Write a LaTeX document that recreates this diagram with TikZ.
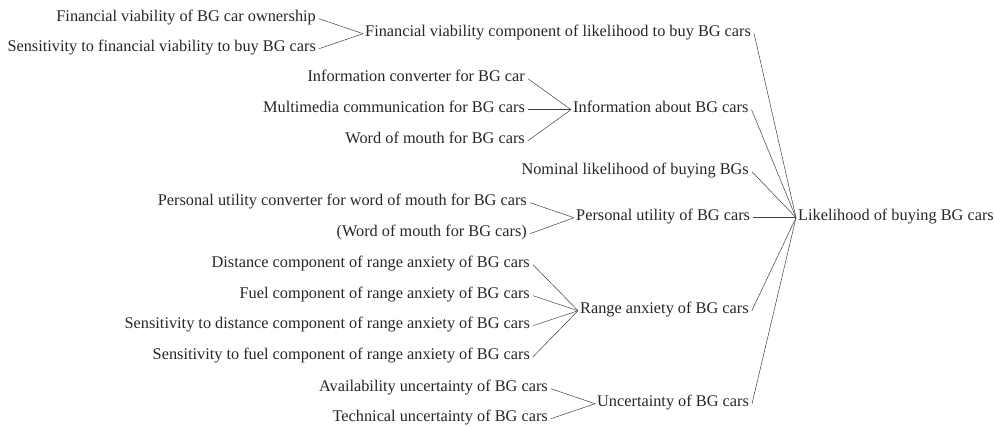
\documentclass[tikz,border=0pt]{standalone}
\usepackage{fontspec}
\setmainfont{Liberation Serif}
\begin{document}
\begin{tikzpicture}[x=1pt,y=1pt,
  lbl/.style={inner sep=0pt, font=\fontsize{16.3}{18}\selectfont, text=black!85},
  src/.style={lbl, anchor=base east},
  dst/.style={lbl, anchor=base west},
  link/.style={draw=black!75, line width=0.5pt}]
\useasboundingbox (0,0) rectangle (995,-426);
\node[src] (fvo) at (316,-21) {Financial viability of BG car ownership};
\node[src] (sfv) at (316,-51) {Sensitivity to financial viability to buy BG cars};
\node[dst] (fvc) at (365,-36) {Financial viability component of likelihood to buy BG cars};
\node[src] (ic) at (525,-81) {Information converter for BG car};
\node[src] (mc) at (525,-112) {Multimedia communication for BG cars};
\node[src] (wom) at (525,-143) {Word of mouth for BG cars};
\node[dst] (iab) at (573,-112) {Information about BG cars};
\node[src] (nom) at (749,-174) {Nominal likelihood of buying BGs};
\node[src] (puc) at (527,-205) {Personal utility converter for word of mouth for BG cars};
\node[src] (wom2) at (527,-236) {(Word of mouth for BG cars)};
\node[dst] (pu) at (576,-220) {Personal utility of BG cars};
\node[dst] (lik) at (798,-220) {Likelihood of buying BG cars};
\node[src] (dc) at (530,-267) {Distance component of range anxiety of BG cars};
\node[src] (fc) at (530,-298) {Fuel component of range anxiety of BG cars};
\node[src] (sdc) at (530,-328) {Sensitivity to distance component of range anxiety of BG cars};
\node[src] (sfc) at (530,-359) {Sensitivity to fuel component of range anxiety of BG cars};
\node[dst] (ra) at (580,-313) {Range anxiety of BG cars};
\node[src] (au) at (548,-391) {Availability uncertainty of BG cars};
\node[src] (tu) at (548,-421) {Technical uncertainty of BG cars};
\node[dst] (unc) at (597,-406) {Uncertainty of BG cars};
\foreach \a/\b in {fvo/fvc, sfv/fvc, ic/iab, mc/iab, wom/iab, puc/pu, wom2/pu,
  dc/ra, fc/ra, sdc/ra, sfc/ra, au/unc, tu/unc,
  fvc/lik, iab/lik, nom/lik, pu/lik, ra/lik, unc/lik}
  \draw[link] ([xshift=3pt]\a.mid east) -- ([xshift=-2pt]\b.mid west);
\end{tikzpicture}
\end{document}
